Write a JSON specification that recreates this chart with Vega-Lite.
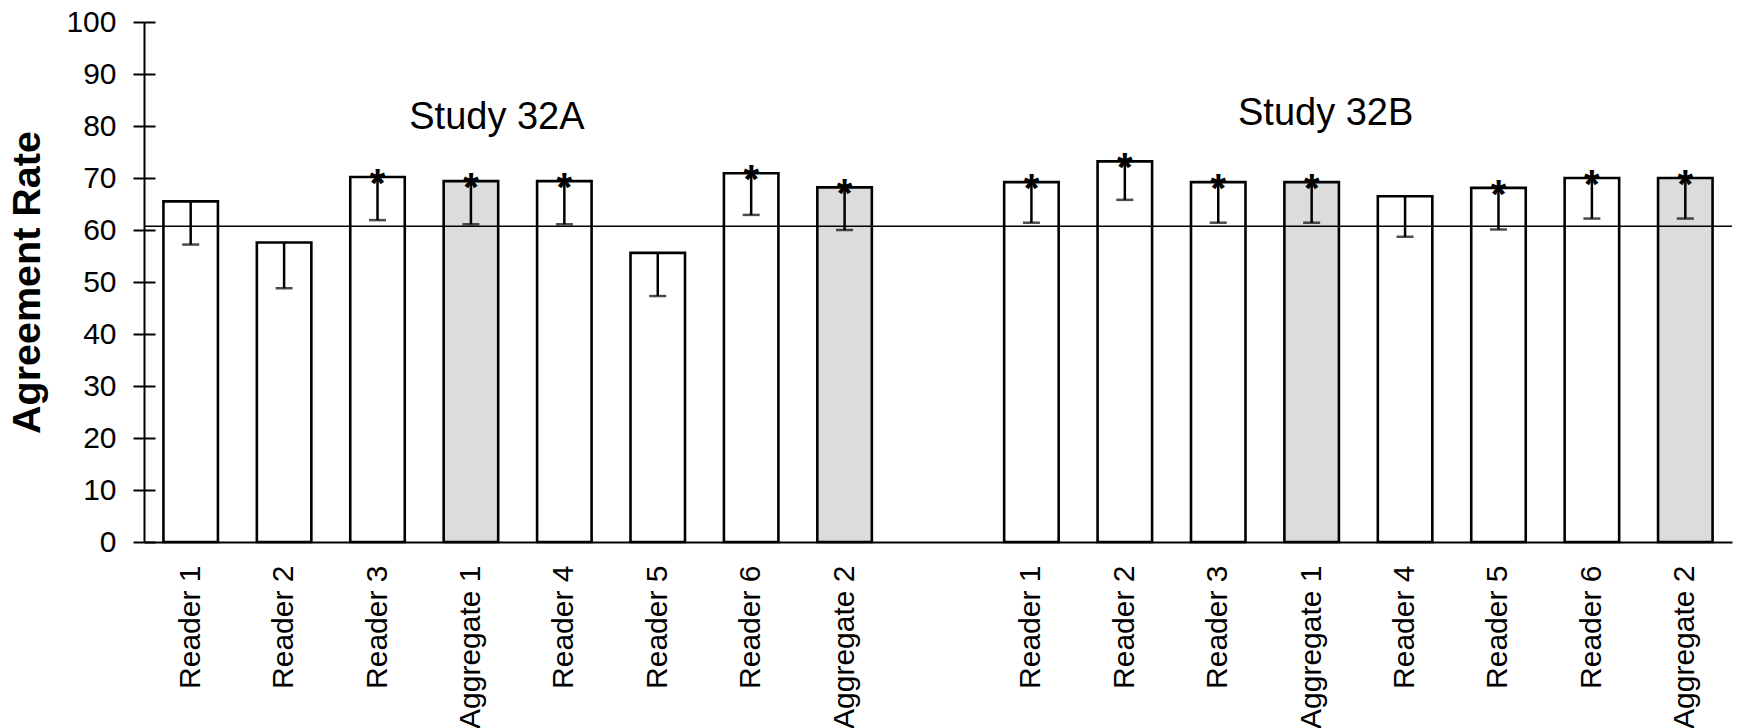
{
  "$schema": "https://vega.github.io/schema/vega-lite/v6.json",
  "width": 1588,
  "height": 520,
  "autosize": {"type": "none"},
  "padding": {"left": 144, "top": 22, "right": 20, "bottom": 186},
  "background": "white",
  "config": {"view": {"stroke": null}, "font": "Liberation Sans"},
  "datasets": {
    "bars": [
      {"key": "32A Reader 1", "kind": "Reader", "rate": 65.5, "lower": 57.2, "sig": false},
      {"key": "32A Reader 2", "kind": "Reader", "rate": 57.6, "lower": 48.8, "sig": false},
      {"key": "32A Reader 3", "kind": "Reader", "rate": 70.2, "lower": 61.9, "sig": true},
      {"key": "32A Aggregate 1", "kind": "Aggregate", "rate": 69.4, "lower": 61.1, "sig": true},
      {"key": "32A Reader 4", "kind": "Reader", "rate": 69.4, "lower": 61.1, "sig": true},
      {"key": "32A Reader 5", "kind": "Reader", "rate": 55.6, "lower": 47.3, "sig": false},
      {"key": "32A Reader 6", "kind": "Reader", "rate": 70.9, "lower": 62.9, "sig": true},
      {"key": "32A Aggregate 2", "kind": "Aggregate", "rate": 68.2, "lower": 60.0, "sig": true},
      {"key": "32B Reader 1", "kind": "Reader", "rate": 69.2, "lower": 61.4, "sig": true},
      {"key": "32B Reader 2", "kind": "Reader", "rate": 73.2, "lower": 65.8, "sig": true},
      {"key": "32B Reader 3", "kind": "Reader", "rate": 69.2, "lower": 61.4, "sig": true},
      {"key": "32B Aggregate 1", "kind": "Aggregate", "rate": 69.2, "lower": 61.4, "sig": true},
      {"key": "32B Reader 4", "kind": "Reader", "rate": 66.5, "lower": 58.7, "sig": false},
      {"key": "32B Reader 5", "kind": "Reader", "rate": 68.1, "lower": 60.1, "sig": true},
      {"key": "32B Reader 6", "kind": "Reader", "rate": 70.0, "lower": 62.2, "sig": true},
      {"key": "32B Aggregate 2", "kind": "Aggregate", "rate": 70.0, "lower": 62.2, "sig": true}
    ],
    "studies": [
      {"key": "32A Aggregate 1", "name": "Study 32A", "y": 79.5},
      {"key": "32B Aggregate 1", "name": "Study 32B", "y": 80.2}
    ],
    "reference": [{"level": 60.7}]
  },
  "resolve": {"axis": {"y": "independent"}},
  "layer": [
    {
      "data": {"name": "bars"},
      "mark": {"type": "bar", "stroke": "black", "strokeWidth": 2.6},
      "encoding": {
        "x": {
          "field": "key", "type": "nominal", "sort": null,
          "scale": {
            "domain": ["32A Reader 1", "32A Reader 2", "32A Reader 3", "32A Aggregate 1", "32A Reader 4", "32A Reader 5", "32A Reader 6", "32A Aggregate 2", "----", "32B Reader 1", "32B Reader 2", "32B Reader 3", "32B Aggregate 1", "32B Reader 4", "32B Reader 5", "32B Reader 6", "32B Aggregate 2"],
            "paddingInner": 0.4165, "paddingOuter": 0.208
          },
          "axis": {
            "title": null, "labelAngle": -90, "labelFontSize": 30, "labelPadding": 23,
            "ticks": false, "domainColor": "black", "domainWidth": 2,
            "labelColor": "black", "labelFont": "Liberation Sans",
            "labelExpr": "slice(datum.label, 4)", "grid": false
          }
        },
        "y": {
          "field": "rate", "type": "quantitative",
          "scale": {"domain": [0, 100], "nice": false},
          "axis": {
            "title": "Agreement Rate", "titleFontSize": 39.5, "titleFontWeight": "bold",
            "titleFont": "Liberation Sans", "titleColor": "black", "titlePadding": 18,
            "values": [0, 10, 20, 30, 40, 50, 60, 70, 80, 90, 100],
            "tickSize": 11, "tickWidth": 2, "tickColor": "black",
            "domainColor": "black", "domainWidth": 2,
            "labelFontSize": 30, "labelPadding": 17, "labelColor": "black",
            "labelFont": "Liberation Sans", "grid": false
          }
        },
        "fill": {
          "field": "kind", "type": "nominal",
          "scale": {"domain": ["Reader", "Aggregate"], "range": ["white", "#dcdcdc"]},
          "legend": null
        }
      }
    },
    {
      "data": {"name": "bars"},
      "mark": {"type": "rule", "color": "black", "strokeWidth": 2.5},
      "encoding": {
        "x": {"field": "key", "type": "nominal", "sort": null},
        "y": {
          "field": "rate", "type": "quantitative",
          "axis": {
            "orient": "left", "offset": -11, "labels": false, "domain": false, "title": null,
            "tickSize": 11, "tickWidth": 2, "tickColor": "black", "grid": false,
            "values": [0, 10, 20, 30, 40, 50, 60, 70, 80, 90, 100]
          }
        },
        "y2": {"field": "lower"}
      }
    },
    {
      "data": {"name": "bars"},
      "mark": {"type": "tick", "color": "black", "size": 17, "thickness": 2.5, "orient": "horizontal"},
      "encoding": {
        "x": {"field": "key", "type": "nominal", "sort": null},
        "y": {"field": "lower", "type": "quantitative", "axis": null}
      }
    },
    {
      "data": {"name": "bars"},
      "transform": [{"filter": "datum.sig"}],
      "mark": {"type": "text", "text": "*", "fontSize": 40, "fontWeight": "bold", "baseline": "alphabetic", "dy": 20, "color": "black", "font": "Liberation Sans"},
      "encoding": {
        "x": {"field": "key", "type": "nominal", "sort": null},
        "y": {"field": "rate", "type": "quantitative", "axis": null}
      }
    },
    {
      "data": {"name": "reference"},
      "mark": {"type": "rule", "color": "black", "strokeWidth": 1.5},
      "encoding": {
        "y": {"field": "level", "type": "quantitative", "axis": null}
      }
    },
    {
      "data": {"name": "studies"},
      "transform": [{"filter": "datum.name === 'Study 32A'"}],
      "mark": {"type": "text", "fontSize": 38, "baseline": "alphabetic", "align": "center", "dx": 26, "color": "black", "font": "Liberation Sans"},
      "encoding": {
        "x": {"field": "key", "type": "nominal", "sort": null},
        "y": {"field": "y", "type": "quantitative", "axis": null},
        "text": {"field": "name"}
      }
    },
    {
      "data": {"name": "studies"},
      "transform": [{"filter": "datum.name === 'Study 32B'"}],
      "mark": {"type": "text", "fontSize": 38, "baseline": "alphabetic", "align": "center", "dx": 14, "color": "black", "font": "Liberation Sans"},
      "encoding": {
        "x": {"field": "key", "type": "nominal", "sort": null},
        "y": {"field": "y", "type": "quantitative", "axis": null},
        "text": {"field": "name"}
      }
    }
  ]
}
